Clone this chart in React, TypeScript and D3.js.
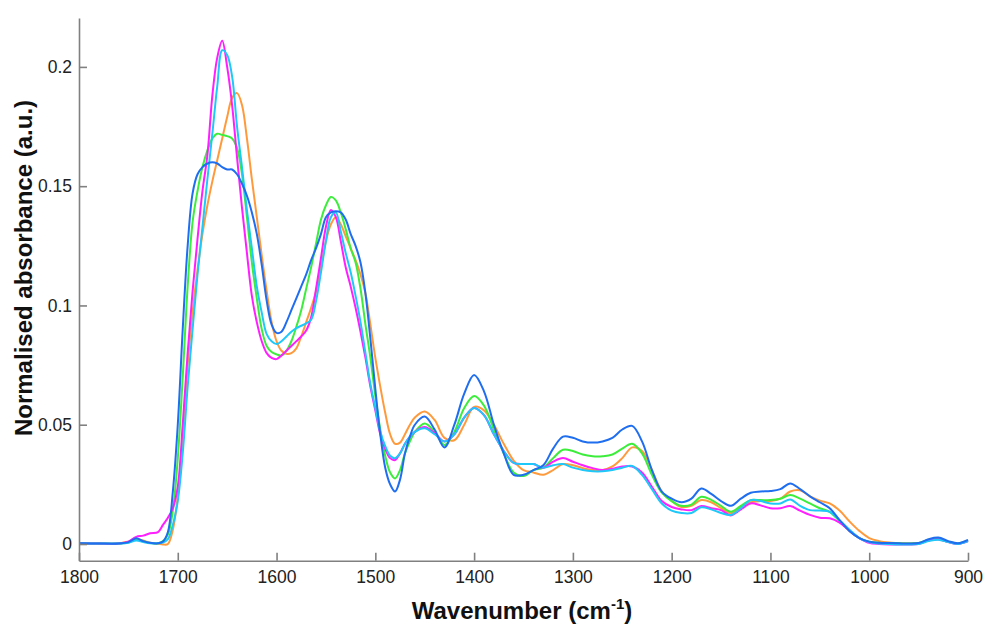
import React from 'react';
import * as d3 from 'd3';

// wavenumber grid (cm-1), shared by all spectra
const wavenumbers = [
  1800, 1780, 1760, 1750, 1742, 1735, 1728, 1720, 1715, 1710,
  1705, 1700, 1695, 1690, 1685, 1680, 1675, 1670, 1665, 1660,
  1655, 1650, 1645, 1640, 1635, 1630, 1625, 1620, 1615, 1610,
  1605, 1600, 1595, 1590, 1585, 1580, 1575, 1570, 1565, 1560,
  1555, 1550, 1545, 1540, 1535, 1530, 1525, 1520, 1515, 1510,
  1505, 1500, 1495, 1490, 1485, 1480, 1475, 1470, 1465, 1460,
  1450, 1440, 1430, 1420, 1410, 1400, 1390, 1380, 1370, 1360,
  1350, 1340, 1330, 1320, 1310, 1300, 1290, 1280, 1270, 1260,
  1250, 1240, 1230, 1220, 1210, 1200, 1190, 1180, 1170, 1160,
  1150, 1140, 1130, 1120, 1110, 1100, 1090, 1080, 1070, 1060,
  1050, 1040, 1030, 1020, 1010, 1000, 990, 980, 970, 960,
  950, 940, 930, 920, 910, 900,
];

const orangeValues = [
  0.0003, 0.0002, 0.0002, 0.001, 0.002, 0.0015, 0.0005, 0.0001, -0.0002, 0.0,
  0.006, 0.02, 0.045, 0.075, 0.097, 0.115, 0.13, 0.142, 0.152, 0.161,
  0.17, 0.179, 0.187, 0.189, 0.184, 0.17, 0.153, 0.137, 0.121, 0.106,
  0.093, 0.085, 0.081, 0.0797, 0.08, 0.082, 0.087, 0.093, 0.099, 0.106,
  0.116, 0.127, 0.134, 0.137, 0.134, 0.129, 0.124, 0.119, 0.113, 0.105,
  0.092, 0.078, 0.066, 0.055, 0.046, 0.042, 0.0425, 0.046, 0.05, 0.053,
  0.0555, 0.052, 0.0445, 0.0435, 0.05, 0.0575, 0.056, 0.05, 0.042, 0.035,
  0.031, 0.03, 0.029, 0.031, 0.0335, 0.033, 0.0318, 0.031, 0.031, 0.0325,
  0.036, 0.0405, 0.039, 0.031, 0.022, 0.018, 0.0155, 0.016, 0.0184, 0.0175,
  0.015, 0.0129, 0.0155, 0.0175, 0.018, 0.018, 0.019, 0.022, 0.0225, 0.02,
  0.0182, 0.017, 0.014, 0.0095, 0.0055, 0.0025, 0.0012, 0.0006, 0.0004, 0.0002,
  0.0004, 0.0016, 0.002, 0.0008, 0.0002, 0.0012,
];

const greenValues = [
  0.0003, 0.0002, 0.0002, 0.0006, 0.002, 0.0012, 0.0004, 0.0003, 0.0012, 0.004,
  0.014, 0.036, 0.07, 0.108, 0.135, 0.148, 0.158, 0.165, 0.17, 0.172,
  0.1715, 0.171, 0.17, 0.166, 0.155, 0.137, 0.118, 0.103, 0.09, 0.083,
  0.0805, 0.0795, 0.079, 0.081, 0.085, 0.091, 0.098, 0.107, 0.116, 0.126,
  0.136, 0.142, 0.1455, 0.144, 0.139, 0.132, 0.124, 0.118, 0.107, 0.092,
  0.078, 0.062, 0.048, 0.037, 0.03, 0.0275, 0.031, 0.038, 0.043, 0.047,
  0.0505, 0.047, 0.0415, 0.047, 0.057, 0.062, 0.058, 0.048, 0.038, 0.03,
  0.0285, 0.031, 0.032, 0.036, 0.0395, 0.039, 0.0375, 0.0368, 0.0368, 0.0375,
  0.04, 0.042, 0.038, 0.029, 0.0215, 0.018, 0.016, 0.0165, 0.0198, 0.0185,
  0.016, 0.0135, 0.016, 0.0184, 0.0184, 0.0184, 0.019, 0.0205, 0.019, 0.017,
  0.015, 0.0135, 0.0095, 0.0055, 0.0025, 0.001, 0.0005, 0.0004, 0.0003, 0.0002,
  0.0004, 0.0018, 0.0022, 0.001, 0.0003, 0.0015,
];

const magentaValues = [
  0.0003, 0.0002, 0.0002, 0.001, 0.003, 0.0035, 0.0045, 0.005, 0.008, 0.011,
  0.015, 0.024, 0.05, 0.08, 0.106, 0.128, 0.148, 0.163, 0.188, 0.204,
  0.211, 0.2, 0.184, 0.162, 0.141, 0.122, 0.104, 0.093, 0.085, 0.08,
  0.078, 0.0775, 0.079, 0.081, 0.083, 0.085, 0.087, 0.0895, 0.095, 0.107,
  0.12, 0.133, 0.14, 0.137, 0.127, 0.116, 0.108, 0.099, 0.089, 0.078,
  0.066, 0.056, 0.046, 0.04, 0.036, 0.0352, 0.038, 0.042, 0.045, 0.047,
  0.049, 0.0465, 0.043, 0.046, 0.053, 0.057, 0.054, 0.046, 0.039, 0.034,
  0.0335, 0.0335, 0.032, 0.0345, 0.036, 0.0345, 0.033, 0.0318, 0.031, 0.0315,
  0.0325, 0.0325, 0.03, 0.024, 0.018, 0.0155, 0.0145, 0.0142, 0.0159, 0.015,
  0.0142, 0.012, 0.0145, 0.017, 0.0162, 0.015, 0.015, 0.0159, 0.014, 0.0122,
  0.011, 0.0108, 0.009, 0.0055, 0.0025, 0.0005, 0.0, -0.0002, -0.0002, -0.0002,
  0.0, 0.0015, 0.002, 0.0008, 0.0, 0.0012,
];

const cyanValues = [
  0.0003, 0.0002, 0.0002, 0.0005, 0.0015, 0.0008, 0.0003, 0.0003, 0.0006, 0.002,
  0.008, 0.018, 0.038, 0.066, 0.09, 0.113, 0.133, 0.153, 0.172, 0.192,
  0.207, 0.205, 0.196, 0.175, 0.158, 0.14, 0.124, 0.108, 0.097, 0.088,
  0.085, 0.0838, 0.085, 0.087, 0.089, 0.0905, 0.0915, 0.0925, 0.094, 0.102,
  0.114, 0.127, 0.137, 0.139, 0.131, 0.122, 0.114, 0.104, 0.093, 0.08,
  0.067, 0.057, 0.047, 0.041, 0.037, 0.036, 0.038, 0.042, 0.045, 0.047,
  0.0485, 0.046, 0.043, 0.046, 0.053, 0.057, 0.054, 0.046, 0.039, 0.034,
  0.0335, 0.0335, 0.032, 0.033, 0.0335, 0.032, 0.031, 0.0305, 0.0305, 0.031,
  0.032, 0.0327, 0.029, 0.023, 0.017, 0.014, 0.013, 0.013, 0.0154, 0.0145,
  0.013, 0.0122, 0.015, 0.0184, 0.018, 0.017, 0.017, 0.0187, 0.016, 0.0142,
  0.014, 0.0135, 0.01, 0.006, 0.0025, 0.0008, 0.0002, 0.0, -0.0002, -0.0002,
  0.0, 0.0012, 0.0018, 0.0008, 0.0, 0.0012,
];

const blueValues = [
  0.0003, 0.0002, 0.0002, 0.0008, 0.0024, 0.0012, 0.0005, 0.0003, 0.001, 0.005,
  0.022, 0.05, 0.09, 0.125, 0.147, 0.155, 0.158, 0.1595, 0.16, 0.1595,
  0.158, 0.157, 0.157, 0.155, 0.151, 0.146, 0.139, 0.13, 0.117, 0.102,
  0.092, 0.0885, 0.089, 0.093, 0.098, 0.103, 0.108, 0.113, 0.119, 0.124,
  0.13, 0.137, 0.139, 0.1395, 0.139, 0.136, 0.13, 0.125, 0.118, 0.105,
  0.086, 0.065, 0.046, 0.032, 0.025, 0.022, 0.027, 0.038, 0.045, 0.05,
  0.0534, 0.048, 0.0405, 0.05, 0.063, 0.0708, 0.064, 0.05, 0.038, 0.029,
  0.029, 0.031, 0.033, 0.04, 0.045, 0.0445, 0.043, 0.0425, 0.043, 0.0445,
  0.048, 0.0495, 0.043, 0.031, 0.022, 0.019, 0.0175, 0.019, 0.0233, 0.021,
  0.018, 0.016, 0.019, 0.0215, 0.022, 0.0222, 0.023, 0.0254, 0.023, 0.02,
  0.0175, 0.015, 0.01, 0.0055, 0.0025, 0.001, 0.0005, 0.0004, 0.0003, 0.0002,
  0.0004, 0.002, 0.0027, 0.0012, 0.0003, 0.0017,
];

const seriesColors = ['#ff9a3c', '#3ced3c', '#ff1eff', '#1ec8f8', '#1f6ef0'];
const seriesValues = [orangeValues, greenValues, magentaValues, cyanValues, blueValues];

const xTicks = [1800, 1700, 1600, 1500, 1400, 1300, 1200, 1100, 1000, 900];
const yTicks = [0, 0.05, 0.1, 0.15, 0.2];

const App = () => {
  const svgRef = React.useRef<SVGSVGElement>(null);

  const width = 987;
  const height = 624;
  const left = 79, right = 968, top = 18, bottom = 560.7;

  React.useEffect(() => {
    const svg = d3.select(svgRef.current);
    svg.selectAll('*').remove();

    const x = d3.scaleLinear().domain([1800, 900]).range([left, right]);
    const y = d3.scaleLinear().domain([-0.007, 0.2205]).range([bottom, top]);

    // spectra
    const line = d3.line<number>()
      .x((d, i) => x(wavenumbers[i]))
      .y((d) => y(d))
      .curve(d3.curveCatmullRom.alpha(0.5));

    svg.append('g')
      .selectAll('path')
      .data(seriesValues)
      .enter()
        .append('path')
        .attr('d', (d) => line(d))
        .attr('fill', 'none')
        .attr('stroke', (d, i) => seriesColors[i])
        .attr('stroke-width', 2)
        .attr('stroke-linejoin', 'round');

    // X axis
    const gx = svg.append('g')
      .attr('transform', `translate(0,${bottom})`)
      .call(d3.axisBottom(x).tickValues(xTicks).tickSizeInner(-8).tickSizeOuter(0).tickPadding(10).tickFormat((d) => String(d)));

    // Y axis
    const gy = svg.append('g')
      .attr('transform', `translate(${left},0)`)
      .call(d3.axisLeft(y).tickValues(yTicks).tickSizeInner(-8).tickSizeOuter(0).tickPadding(7).tickFormat((d) => String(d)));

    [gx, gy].forEach((g) => {
      g.select('.domain').attr('stroke', '#808080').attr('stroke-width', 1.6);
      g.selectAll('.tick line').attr('stroke', '#808080').attr('stroke-width', 1.6);
      g.selectAll('.tick text')
        .attr('fill', '#222')
        .style('font-family', '"Liberation Sans", Arial, sans-serif')
        .style('font-size', '17.5px');
    });

    // axis titles
    const xt = svg.append('text')
      .attr('x', 522)
      .attr('y', 619)
      .style('text-anchor', 'middle')
      .style('font-family', '"Liberation Sans", Arial, sans-serif')
      .style('font-weight', 'bold')
      .style('font-size', '24px')
      .attr('fill', '#111');
    xt.append('tspan').text('Wavenumber (cm');
    xt.append('tspan').attr('dy', -10).style('font-size', '15px').text('-1');
    xt.append('tspan').attr('dy', 10).text(')');

    svg.append('text')
      .attr('transform', 'translate(32,268) rotate(-90)')
      .style('text-anchor', 'middle')
      .style('font-family', '"Liberation Sans", Arial, sans-serif')
      .style('font-weight', 'bold')
      .style('font-size', '24px')
      .attr('fill', '#111')
      .text('Normalised absorbance (a.u.)');
  // eslint-disable-next-line react-hooks/exhaustive-deps
  }, []);

  return (
    <svg
      ref={svgRef}
      width={width}
      height={height}
      style={{ position: 'absolute', left: 0, top: 0, background: '#fff' }}
    />
  );
};

export default App;
